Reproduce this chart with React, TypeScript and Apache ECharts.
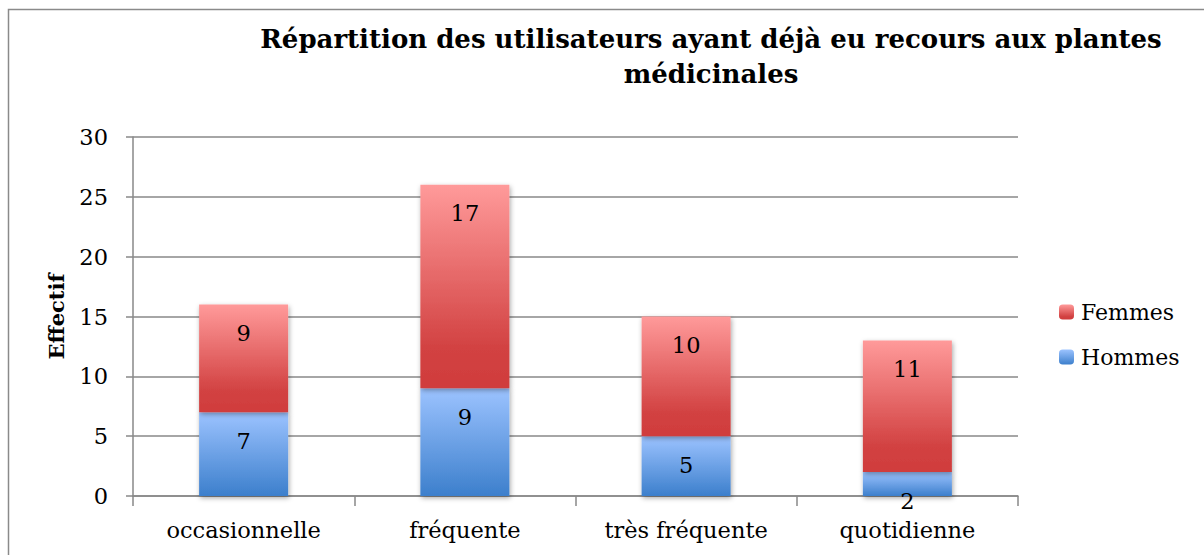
import React, { useEffect, useRef } from "react";
import * as echarts from "echarts";

const categories = ["occasionnelle", "fréquente", "très fréquente", "quotidienne"];
const hommes = [7, 9, 5, 2];
const femmes = [9, 17, 10, 11];
const titleText = "Répartition des utilisateurs ayant déjà eu recours aux plantes\nmédicinales";

const FONT = "'DejaVu Serif', serif";

export default function App() {
  const ref = useRef<HTMLDivElement>(null);
  useEffect(() => {
    document.body.style.margin = "0";
    const chart = echarts.init(ref.current!, null, { renderer: "svg" });
    const red = new echarts.graphic.LinearGradient(0, 0, 0, 1, [
      { offset: 0, color: "#ff9a9a" },
      { offset: 0.8, color: "#d24242" },
      { offset: 1, color: "#d03c3c" },
    ]);
    const blue = new echarts.graphic.LinearGradient(0, 0, 0, 1, [
      { offset: 0, color: "#9cc3ff" },
      { offset: 1, color: "#3c7fcc" },
    ]);
    const labelCfg = {
      show: true,
      position: "insideTop",
      distance: 17,
      color: "#000",
      fontFamily: FONT,
      fontSize: 22.5,
    };
    const shadow = {
      shadowBlur: 5,
      shadowColor: "rgba(0,0,0,0.35)",
      shadowOffsetY: 2,
      shadowOffsetX: 1,
    };
    chart.setOption({
      animation: false,
      title: {
        text: titleText,
        left: 706,
        textAlign: "center",
        top: 16,
        textStyle: {
          fontFamily: FONT,
          fontWeight: "bold",
          fontSize: 26,
          lineHeight: 35,
          color: "#000",
        },
      },
      graphic: [
        {
          type: "rect",
          shape: { x: 8.5, y: 9.5, width: 1400, height: 700 },
          style: { fill: "none", stroke: "#8a8a8a", lineWidth: 1.5 },
          silent: true,
        },
      ],
      legend: {
        orient: "vertical",
        left: 1059,
        top: 301,
        padding: 0,
        itemWidth: 15,
        itemHeight: 15,
        itemGap: 23,
        data: ["Femmes", "Hommes"],
        textStyle: { fontFamily: FONT, fontSize: 22, color: "#000", padding: [0, 0, 0, 2] },
      },
      grid: {
        left: 133,
        top: 137,
        width: 885,
        height: 359,
        outerBoundsMode: "none",
        containLabel: false,
      },
      xAxis: {
        type: "category",
        data: categories,
        axisLine: { lineStyle: { color: "#888", width: 1.5 } },
        axisTick: { show: true, length: 10, alignWithLabel: false, lineStyle: { color: "#888", width: 1.5 } },
        axisLabel: { fontFamily: FONT, fontSize: 22.5, color: "#000", margin: 22 },
      },
      yAxis: {
        type: "value",
        min: 0,
        max: 30,
        interval: 5,
        name: "Effectif",
        nameLocation: "middle",
        nameGap: 66,
        nameTextStyle: { fontFamily: FONT, fontSize: 21, fontWeight: "bold", color: "#000" },
        axisLine: { show: true, lineStyle: { color: "#888", width: 1.5 } },
        axisTick: { show: true, length: 7, lineStyle: { color: "#888", width: 1.5 } },
        splitLine: { lineStyle: { color: "#888", width: 1.5 } },
        axisLabel: { fontFamily: FONT, fontSize: 22.5, color: "#000", margin: 25 },
      },
      series: [
        {
          name: "Hommes",
          type: "bar",
          stack: "total",
          data: hommes,
          barWidth: 89,
          itemStyle: { color: blue, ...shadow },
          label: labelCfg,
        },
        {
          name: "Femmes",
          type: "bar",
          stack: "total",
          data: femmes,
          barWidth: 89,
          itemStyle: { color: red, ...shadow },
          label: labelCfg,
        },
      ],
    });
    return () => chart.dispose();
  }, []);
  return <div ref={ref} style={{ width: 1204, height: 555 }} />;
}
